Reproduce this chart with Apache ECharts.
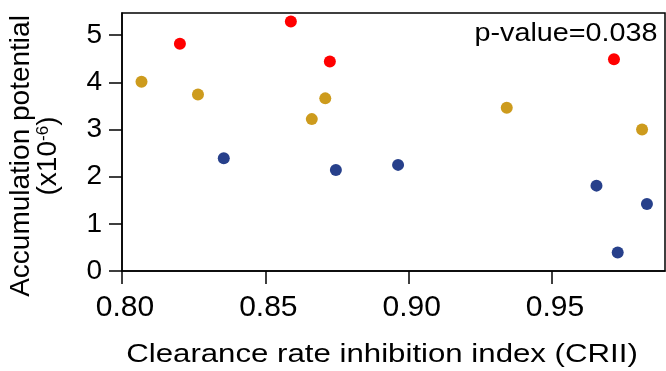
<!DOCTYPE html>
<html>
<head>
<meta charset="utf-8">
<script src="https://cdn.jsdelivr.net/npm/echarts@6/dist/echarts.min.js"></script>
<style>html,body{margin:0;padding:0;background:#fff}#c{width:666px;height:371px}</style>
</head>
<body>
<div id="c"></div>
<script>
// Data
const redX  = [0.8202, 0.8589, 0.8725, 0.9716];
const redY  = [4.82, 5.29, 4.44, 4.49];
const goldX = [0.8068, 0.8265, 0.8662, 0.8709, 0.9342, 0.9814];
const goldY = [4.01, 3.74, 3.22, 3.66, 3.46, 3.00];
const blueX = [0.8355, 0.8746, 0.8963, 0.9655, 0.9831, 0.9729];
const blueY = [2.39, 2.14, 2.25, 1.81, 1.42, 0.39];
const xTicks = [0.80, 0.85, 0.90, 0.95];
const yTicks = [0, 1, 2, 3, 4, 5];
const xTitle = 'Clearance rate inhibition index (CRII)';
const yTitle1 = 'Accumulation potential';
const yTitle2 = '(x10';
const yTitleSup = '-6';
const annotation = 'p-value=0.038';

const pairs = (xs, ys) => xs.map((x, i) => [x, ys[i]]);
const FONT = '"Liberation Sans", Arial, sans-serif';

const chart = echarts.init(document.getElementById('c'), null, {renderer: 'canvas'});
chart.setOption({
  animation: false,
  backgroundColor: '#fff',
  grid: {left: 122, right: 1, top: 13, bottom: 100, show: true, borderColor: '#000', borderWidth: 1.5, backgroundColor: 'transparent'},
  xAxis: {
    type: 'value', min: 0.80, max: 0.9894,
    axisLine: {show: true, lineStyle: {color: '#000', width: 1.5}},
    axisTick: {show: true, length: 13, lineStyle: {color: '#000', width: 1.5}, customValues: xTicks},
    axisLabel: {show: true, customValues: xTicks, margin: 22, color: '#000', fontSize: 30, fontFamily: FONT,
      padding: [0, 0, 0, 6],
      formatter: v => Number(v).toFixed(2)},
    splitLine: {show: false}
  },
  yAxis: {
    type: 'value', min: 0, max: 5.47,
    axisLine: {show: true, lineStyle: {color: '#000', width: 1.5}},
    axisTick: {show: true, length: 13, lineStyle: {color: '#000', width: 1.5}, customValues: yTicks},
    axisLabel: {show: true, customValues: yTicks, margin: 20, color: '#000', fontSize: 28, fontFamily: FONT},
    splitLine: {show: false}
  },
  series: [
    {type: 'scatter', data: pairs(redX, redY), symbolSize: 12, itemStyle: {color: '#ff0000', opacity: 1}},
    {type: 'scatter', data: pairs(goldX, goldY), symbolSize: 12, itemStyle: {color: '#CD9B1D', opacity: 1}},
    {type: 'scatter', data: pairs(blueX, blueY), symbolSize: 12, itemStyle: {color: '#27408B', opacity: 1}}
  ],
  graphic: [
    {type: 'text', x: 382, y: 355, scaleX: 1.2, silent: true,
      style: {text: xTitle, x: 0, y: 0, fill: '#000', fontSize: 26, fontFamily: FONT,
        align: 'center', verticalAlign: 'middle', textAlign: 'center', textVerticalAlign: 'middle'}},
    {type: 'text', x: 566, y: 34, scaleX: 1.15, silent: true,
      style: {text: annotation, x: 0, y: 0, fill: '#000', fontSize: 25, fontFamily: FONT,
        align: 'center', verticalAlign: 'middle', textAlign: 'center', textVerticalAlign: 'middle'}},
    {type: 'text', x: 35, y: 156, rotation: Math.PI / 2, silent: true,
      style: {text: '{a|' + yTitle1 + '}\n{a|' + yTitle2 + '}{s|' + yTitleSup + '}{a|)}',
        x: 0, y: 0, fill: '#000', fontFamily: FONT,
        align: 'center', verticalAlign: 'middle', textAlign: 'center', textVerticalAlign: 'middle',
        rich: {
          a: {fontSize: 28, lineHeight: 27, fontFamily: FONT, fill: '#000', color: '#000'},
          s: {fontSize: 17, lineHeight: 27, fontFamily: FONT, fill: '#000', color: '#000', verticalAlign: 'top'}
        }}}
  ]
});
</script>
</body>
</html>
